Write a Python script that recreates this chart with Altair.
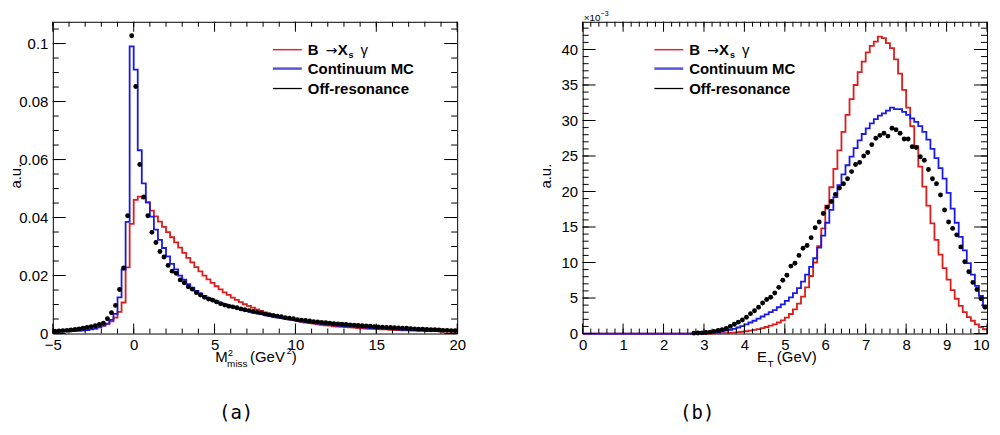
import altair as alt
import pandas as pd

FONT = "Liberation Sans"

# ---------------- panel (a): M^2_miss, 100 bins from -5 to 20 ----------------
A_LO, A_HI, A_W = -5.0, 20.0, 0.25
a_red = [0.0007, 0.0007, 0.0008, 0.0008, 0.0009, 0.0010, 0.0010, 0.0011,
         0.0012, 0.0015, 0.0018, 0.0022, 0.0027, 0.0033, 0.0042, 0.0055,
         0.0075, 0.0107, 0.0228, 0.0378, 0.0461, 0.0472, 0.0466, 0.0452,
         0.0424, 0.0404, 0.0386, 0.0368, 0.0350, 0.0332, 0.0314, 0.0296,
         0.0278, 0.0261, 0.0245, 0.0229, 0.0214, 0.0200, 0.0187, 0.0175,
         0.0163, 0.0152, 0.0142, 0.0133, 0.0124, 0.0116, 0.0108, 0.0101,
         0.0095, 0.0089, 0.0083, 0.0078, 0.0073, 0.0068, 0.0064, 0.0060,
         0.0056, 0.0052, 0.0049, 0.0046, 0.0043, 0.0040, 0.0038, 0.0036,
         0.0034, 0.0032, 0.0030, 0.0028, 0.0027, 0.0025, 0.0024, 0.0023,
         0.0022, 0.0021, 0.0020, 0.0019, 0.0018, 0.0017, 0.0016, 0.0016,
         0.0015, 0.0014, 0.0014, 0.0013, 0.0012, 0.0012, 0.0011, 0.0011,
         0.0010, 0.0010, 0.0009, 0.0009, 0.0009, 0.0008, 0.0008, 0.0008,
         0.0007, 0.0007, 0.0007, 0.0006]
a_blue = [0.0006, 0.0007, 0.0007, 0.0008, 0.0008, 0.0009, 0.0010, 0.0011,
          0.0012, 0.0014, 0.0017, 0.0021, 0.0027, 0.0034, 0.0047, 0.0068,
          0.0125, 0.0220, 0.0385, 0.0990, 0.0910, 0.0632, 0.0518, 0.0452,
          0.0403, 0.0358, 0.0323, 0.0295, 0.0266, 0.0240, 0.0221, 0.0200,
          0.0186, 0.0170, 0.0158, 0.0147, 0.0138, 0.0130, 0.0123, 0.0117,
          0.0111, 0.0106, 0.0101, 0.0096, 0.0092, 0.0088, 0.0084, 0.0080,
          0.0077, 0.0073, 0.0070, 0.0067, 0.0064, 0.0061, 0.0058, 0.0056,
          0.0053, 0.0051, 0.0049, 0.0046, 0.0044, 0.0042, 0.0040, 0.0038,
          0.0036, 0.0034, 0.0033, 0.0031, 0.0030, 0.0028, 0.0027, 0.0026,
          0.0025, 0.0024, 0.0023, 0.0022, 0.0021, 0.0020, 0.0019, 0.0018,
          0.0017, 0.0017, 0.0016, 0.0015, 0.0015, 0.0014, 0.0013, 0.0013,
          0.0012, 0.0012, 0.0011, 0.0011, 0.0010, 0.0010, 0.0009, 0.0009,
          0.0009, 0.0008, 0.0008, 0.0008]
a_off = [0.0008, 0.0009, 0.0010, 0.0011, 0.0012, 0.0014, 0.0016, 0.0018,
         0.0021, 0.0024, 0.0027, 0.0031, 0.0036, 0.0051, 0.0072, 0.0097,
         0.0152, 0.0226, 0.0406, 0.1027, 0.0852, 0.0583, 0.0471, 0.0406,
         0.0349, 0.0314, 0.0283, 0.0264, 0.0235, 0.0215, 0.0208, 0.0185,
         0.0175, 0.0161, 0.0153, 0.0141, 0.0133, 0.0125, 0.0119, 0.0115,
         0.0109, 0.0103, 0.0098, 0.0094, 0.0092, 0.0089, 0.0085, 0.0082,
         0.0079, 0.0076, 0.0073, 0.0071, 0.0067, 0.0065, 0.0062, 0.0060,
         0.0058, 0.0055, 0.0053, 0.0051, 0.0048, 0.0046, 0.0045, 0.0043,
         0.0041, 0.0040, 0.0038, 0.0037, 0.0036, 0.0034, 0.0033, 0.0032,
         0.0031, 0.0030, 0.0029, 0.0028, 0.0027, 0.0026, 0.0025, 0.0024,
         0.0023, 0.0022, 0.0021, 0.0021, 0.0020, 0.0019, 0.0018, 0.0018,
         0.0017, 0.0016, 0.0015, 0.0015, 0.0014, 0.0013, 0.0013, 0.0012,
         0.0011, 0.0011, 0.0010, 0.0010]
a_xticks = [-5, 0, 5, 10, 15, 20]
a_yticks = [0, 0.02, 0.04, 0.06, 0.08, 0.1]
A_YMAX = 0.1075

# ---------------- panel (b): E_T, 100 bins from 0 to 10 (units of 1e-3) ----------------
B_LO, B_HI, B_W = 0.0, 10.0, 0.1
b_red = [0] * 32 + [
    0.02, 0.03, 0.05, 0.07, 0.10, 0.14, 0.19, 0.25,
    0.32, 0.40, 0.50, 0.62, 0.76, 0.92, 1.10, 1.30, 1.55, 1.85,
    2.25, 2.75, 3.40, 4.20, 5.20, 6.50, 8.10, 10.0, 12.3, 14.8,
    18.0, 20.6, 23.2, 25.8, 28.4, 30.8, 33.0, 35.0, 36.8, 38.3,
    39.6, 40.5, 41.1, 41.8, 41.6, 40.9, 40.2, 38.6, 36.6, 34.3,
    31.8, 29.2, 26.4, 23.5, 20.7, 18.0, 15.5, 13.2, 11.1, 9.2,
    7.6, 6.1, 4.9, 3.9, 3.0, 2.3, 1.8, 1.3, 0.9, 0.6]
b_blue = [0] * 30 + [
    0.05, 0.10, 0.15, 0.20, 0.30, 0.40, 0.50, 0.65, 0.85, 1.05,
    1.30, 1.55, 1.80, 2.10, 2.40, 2.70, 3.00, 3.30, 3.70, 4.10,
    4.60, 5.10, 5.70, 6.40, 7.30, 8.30, 9.40, 10.6, 12.1, 13.8,
    15.6, 17.4, 19.2, 20.9, 22.4, 23.7, 24.9, 26.1, 27.2, 28.1,
    28.9, 29.6, 30.2, 30.7, 31.0, 31.4, 31.8, 31.6, 31.6, 31.2,
    30.8, 30.3, 29.8, 29.2, 28.4, 27.3, 26.0, 24.7, 23.3, 21.8,
    19.8, 17.6, 15.6, 13.6, 11.7, 9.9, 8.3, 6.7, 5.3, 3.9]
b_off = [None] * 27 + [
    0.05, 0.08, 0.10,
    0.15, 0.20, 0.30, 0.42, 0.55, 0.70, 1.00, 1.30, 1.60, 1.90,
    2.30, 2.80, 3.20, 3.70, 4.30, 4.80, 5.10, 5.70, 6.50, 7.50,
    8.20, 9.50, 9.90, 11.0, 12.0, 12.4, 13.5, 14.9, 15.7, 16.9,
    17.8, 18.6, 19.6, 20.5, 21.1, 21.8, 22.8, 23.8, 24.1, 25.0,
    25.5, 26.6, 27.5, 27.9, 28.2, 27.8, 28.9, 28.7, 28.2, 27.4,
    27.4, 26.3, 26.2, 24.9, 24.4, 23.1, 21.8, 21.1, 19.5, 17.4,
    15.7, 14.8, 13.9, 12.2, 10.1, 8.7, 7.2, 6.2, 4.9, 3.7]
b_xticks = [0, 1, 2, 3, 4, 5, 6, 7, 8, 9, 10]
b_yticks = [0, 5, 10, 15, 20, 25, 30, 35, 40]
B_YMAX = 43.9

legend_labels = ["B", "→", "X", "s", "γ", "Continuum MC", "Off-resonance"]
captions = ["(a)", "(b)"]

W, H = 406, 313
RED, BLUE = "#dd1c1c", "#1a1ae6"


def step_df(lo, w, vals):
    xs = [lo + w * i for i in range(len(vals) + 1)]
    ys = list(vals) + [vals[-1]]
    return pd.DataFrame({"x": xs, "y": ys})


def dot_df(lo, w, vals):
    rows = [(lo + w * (i + 0.5), v) for i, v in enumerate(vals) if v is not None]
    return pd.DataFrame(rows, columns=["x", "y"])


def txt(text, x, y, size=15, weight="normal", font=FONT, align="left",
        baseline="alphabetic", angle=0):
    return alt.Chart(pd.DataFrame({"t": [text]})).mark_text(
        align=align, baseline=baseline, fontSize=size, fontWeight=weight,
        font=font, angle=angle, color="black"
    ).encode(x=alt.value(x), y=alt.value(y), text="t:N")


def hline(x1, x2, y, color, width):
    return alt.Chart(pd.DataFrame({"t": [0]})).mark_rule(
        color=color, strokeWidth=width
    ).encode(x=alt.value(x1), x2=alt.value(x2), y=alt.value(y))


def anchor(x):
    # invisible vertical rule that fixes the padded extent of the figure
    return alt.Chart(pd.DataFrame({"t": [0]})).mark_rule(
        opacity=0, strokeWidth=1
    ).encode(x=alt.value(x), y=alt.value(-12.5), y2=alt.value(H + 85))


def legend(x0, tx):
    return [
        hline(x0, x0 + 29, 28, "#e02828", 1.5),
        hline(x0, x0 + 29, 47, "#5555e0", 2.5),
        hline(x0, x0 + 29, 67, "black", 1.3),
        txt(legend_labels[0], tx, 33, weight="bold"),
        txt(legend_labels[1], tx + 18, 33, size=14, font="DejaVu Sans"),
        txt(legend_labels[2], tx + 30, 33, weight="bold"),
        txt(legend_labels[3], tx + 41, 36, size=9, weight="bold"),
        txt(legend_labels[4], tx + 53, 33),
        txt(legend_labels[5], tx, 52, weight="bold"),
        txt(legend_labels[6], tx, 72, weight="bold"),
    ]


LAST_X_LABEL_ALIGN = {"condition": {"test": "datum.value == 10", "value": "right"},
                      "value": "center"}
LAST_X_LABEL_OFFSET = {"condition": {"test": "datum.value == 10", "value": 2},
                       "value": 0}


def panel(xdom, ydom, steps, dots, xmaj, xmin, ymaj, ymin, extras, xfmt, yfmt,
          flush_last=False):
    xs = alt.Scale(domain=xdom, nice=False, zero=False)
    ys = alt.Scale(domain=ydom, nice=False, zero=False)
    xkw = dict(values=xmaj, format=xfmt, title=None, ticks=False, domain=False,
               grid=False, labelPadding=4, labelOverlap=False, labelFlush=False)
    if flush_last:
        xkw["labelAlign"] = LAST_X_LABEL_ALIGN
        xkw["labelOffset"] = LAST_X_LABEL_OFFSET
    xaxis = alt.Axis(**xkw)
    yaxis = alt.Axis(values=ymaj, format=yfmt, title=None, ticks=False, domain=False,
                     grid=False, labelPadding=5, labelOverlap=False, labelFlush=False)

    def X(f):
        return alt.X(f, type="quantitative", scale=xs, axis=xaxis)

    def Y(f):
        return alt.Y(f, type="quantitative", scale=ys, axis=yaxis)

    layers = []
    for df, color in steps:
        layers.append(alt.Chart(df).mark_line(
            interpolate="step-after", color=color, strokeWidth=1.8
        ).encode(x=X("x"), y=Y("y")))
    layers.append(alt.Chart(dots).mark_circle(size=24, color="black", opacity=1)
                  .encode(x=X("x"), y=Y("y")))
    for vals, L in ((xmaj, 10), (xmin, 5)):
        d = pd.DataFrame({"v": vals})
        layers.append(alt.Chart(d).mark_rule(color="black", strokeWidth=1)
                      .encode(x=X("v"), y=alt.value(H), y2=alt.value(H - L)))
        layers.append(alt.Chart(d).mark_rule(color="black", strokeWidth=1)
                      .encode(x=X("v"), y=alt.value(0), y2=alt.value(L)))
    for vals, L in ((ymaj, 13), (ymin, 6)):
        d = pd.DataFrame({"v": vals})
        layers.append(alt.Chart(d).mark_rule(color="black", strokeWidth=1)
                      .encode(y=Y("v"), x=alt.value(0), x2=alt.value(L)))
        layers.append(alt.Chart(d).mark_rule(color="black", strokeWidth=1)
                      .encode(y=Y("v"), x=alt.value(W), x2=alt.value(W - L)))
    layers += extras
    return alt.layer(*layers).properties(width=W, height=H)


a_xminor = [v for v in range(-5, 21)]
a_yminor = [round(0.005 * i, 4) for i in range(22)]
b_xminor = [round(0.2 * i, 2) for i in range(51)]
b_yminor = list(range(0, 44))

extras_a = legend(221, 256) + [
    anchor(-44),
    txt("a.u.", -36.5, 155, angle=270, align="center", baseline="middle"),
    txt("M", 163, 342),
    txt("2", 176, 336, size=9),
    txt("miss", 175, 347, size=10),
    txt("(GeV", 198, 342),
    txt("2", 235, 334, size=9),
    txt(")", 240, 342),
    txt(captions[0], 184, 399, size=19, font="DejaVu Sans Mono", align="center"),
]
extras_b = legend(72, 107) + [
    anchor(W + 2),
    txt("a.u.", -37, 155, angle=270, align="center", baseline="middle"),
    txt("E", 175, 342),
    txt("T", 185.5, 347, size=10),
    txt("(GeV)", 195, 342),
    txt("×10", 1, -1, size=10),
    txt("−3", 18, -6, size=7),
    txt(captions[1], 115, 399, size=19, font="DejaVu Sans Mono", align="center"),
]

left = panel([A_LO, A_HI], [0, A_YMAX],
             [(step_df(A_LO, A_W, a_red), RED), (step_df(A_LO, A_W, a_blue), BLUE)],
             dot_df(A_LO, A_W, a_off), a_xticks, a_xminor, a_yticks, a_yminor, extras_a,
             "d", "~g")
right = panel([B_LO, B_HI], [0, B_YMAX],
              [(step_df(B_LO, B_W, b_red), RED), (step_df(B_LO, B_W, b_blue), BLUE)],
              dot_df(B_LO, B_W, b_off), b_xticks, b_xminor, b_yticks, b_yminor, extras_b,
              "d", "d", flush_last=True)

chart = alt.hconcat(
    left, right, spacing=126, bounds="flush", padding=0, background="white",
).configure_view(stroke="black", strokeWidth=1).configure_axis(
    labelFont=FONT, labelFontSize=15, labelColor="black"
)

chart.save("out.html", embed_options={"renderer": "svg", "actions": False})
